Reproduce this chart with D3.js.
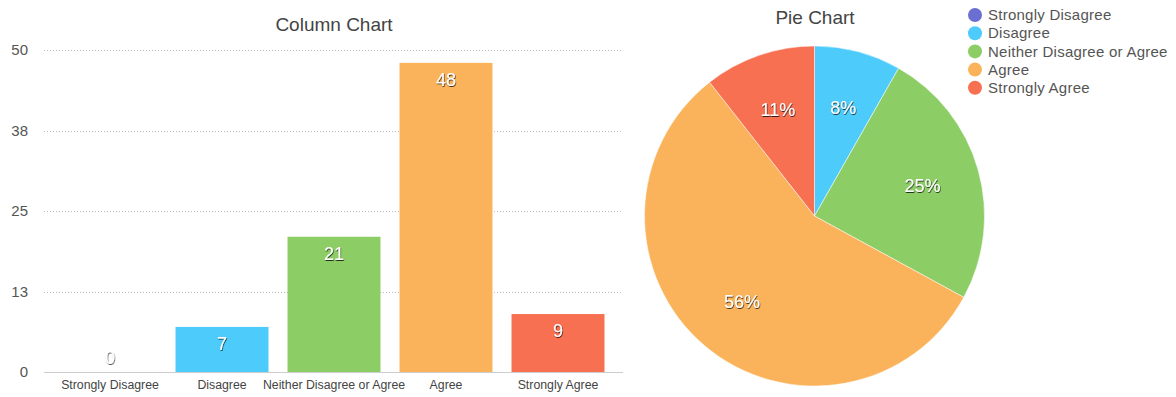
<!DOCTYPE html>
<html><head><meta charset="utf-8">
<script src="https://cdn.jsdelivr.net/npm/d3@7"></script>
<style>
body{margin:0;background:#fff;}
svg{font-family:"Liberation Sans",Arial,sans-serif;}
</style></head>
<body>
<svg id="c" width="1176" height="397"></svg>
<script>
const categories = ["Strongly Disagree","Disagree","Neither Disagree or Agree","Agree","Strongly Agree"];
const values = [0,7,21,48,9];
const colors = ["#6b6fcf","#4dcbfb","#8dcd66","#fab35a","#f87052"];
const yTickValues = [0,12.5,25,37.5,50];
const yTickLabels = ["0","13","25","38","50"];

const svg = d3.select("#c");
const defs = svg.append("defs");
const f = defs.append("filter").attr("id","sh").attr("x","-20%").attr("y","-20%").attr("width","140%").attr("height","140%");
f.append("feDropShadow").attr("dx",0.6).attr("dy",1).attr("stdDeviation",0.6).attr("flood-color","#000").attr("flood-opacity",0.75);

// Column chart
const x = d3.scaleBand().domain(categories).range([54,614]).paddingInner(0.17).paddingOuter(0.085);
const y = d3.scaleLinear().domain([0,50]).range([372,50]);

svg.append("text").attr("x",334).attr("y",31).attr("text-anchor","middle")
  .attr("font-size",19).attr("fill","#444").text("Column Chart");

const yAxis = d3.axisLeft(y).tickValues(yTickValues).tickFormat((d,i)=>yTickLabels[i]).tickSize(0).tickPadding(0);
const gy = svg.append("g").attr("transform","translate(28,0)").call(yAxis);
gy.select(".domain").remove();
gy.selectAll("text").attr("font-size",15).attr("fill","#555").attr("font-family","Liberation Sans, Arial, sans-serif");

svg.append("g").selectAll("line").data(yTickValues.filter(d=>d>0)).join("line")
  .attr("x1",44).attr("x2",623).attr("y1",d=>Math.round(y(d))+0.5).attr("y2",d=>Math.round(y(d))+0.5)
  .attr("stroke","#bbb").attr("stroke-width",1).attr("stroke-dasharray","1,2");

svg.append("g").selectAll("rect").data(values).join("rect")
  .attr("x",(d,i)=>x(categories[i])).attr("width",x.bandwidth())
  .attr("y",d=>y(d)).attr("height",d=>y(0)-y(d))
  .attr("fill",(d,i)=>colors[i]);

svg.append("line").attr("x1",44).attr("x2",623).attr("y1",372.5).attr("y2",372.5).attr("stroke","#ccc");

svg.append("g").selectAll("text").data(values).join("text")
  .attr("x",(d,i)=>x(categories[i])+x.bandwidth()/2)
  .attr("y",d=>y(d)+ (d===0 ? -8 : 23))
  .attr("text-anchor","middle").attr("font-size",18).attr("fill","#fff")
  .attr("filter","url(#sh)").text(d=>d);

const xAxis = d3.axisBottom(x).tickSize(0).tickPadding(0);
const gx = svg.append("g").attr("transform","translate(0,380)").call(xAxis);
gx.select(".domain").remove();
gx.selectAll("text").attr("font-size",12.3).attr("fill","#444").attr("dy","0.71em").attr("font-family","Liberation Sans, Arial, sans-serif");

// Pie chart
const cx = 814.5, cy = 216, R = 170;
svg.append("text").attr("x",815).attr("y",24).attr("text-anchor","middle")
  .attr("font-size",19).attr("fill","#444").text("Pie Chart");

const total = d3.sum(values);
const pie = d3.pie().sort(null).value(d=>d)(values);
const arc = d3.arc().innerRadius(0).outerRadius(R);
const labelArc = d3.arc().innerRadius(R*0.66).outerRadius(R*0.66);
const gp = svg.append("g").attr("transform",`translate(${cx},${cy})`);
gp.selectAll("path").data(pie).join("path").attr("d",arc)
  .attr("fill",(d,i)=>colors[i]).attr("stroke","#fff").attr("stroke-width",0.5);
gp.selectAll("text").data(pie.filter(d=>d.value>0)).join("text")
  .attr("transform",d=>`translate(${labelArc.centroid(d)})`)
  .attr("text-anchor","middle").attr("dy","0.35em").attr("font-size",18).attr("fill","#fff")
  .attr("filter","url(#sh)").text(d=>Math.round(d.value/total*100)+"%");

// Legend
const lg = svg.append("g").selectAll("g").data(categories).join("g")
  .attr("transform",(d,i)=>`translate(975,${15+i*18.2})`);
lg.append("circle").attr("r",7).attr("fill",(d,i)=>colors[i]);
lg.append("text").attr("x",13).attr("dy","0.35em").attr("font-size",15).attr("letter-spacing",0.25).attr("fill","#555").text(d=>d);
</script>
</body></html>
